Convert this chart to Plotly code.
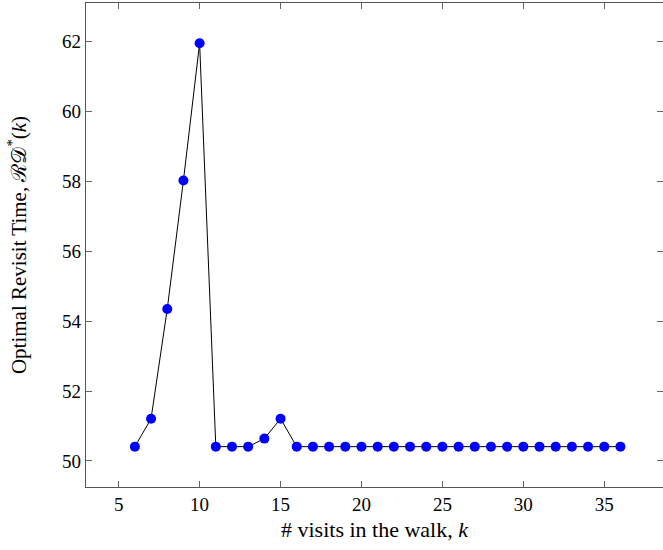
import plotly.graph_objects as go

k_values = list(range(6, 37))
revisit_time = [50.41, 51.21, 54.35, 58.03, 61.96, 50.41, 50.41, 50.41, 50.64, 51.21] + [50.41] * 21
x_ticks = [5, 10, 15, 20, 25, 30, 35]
y_ticks = [50, 52, 54, 56, 58, 60, 62]

font_family = "Liberation Serif, DejaVu Serif, serif"

fig = go.Figure()
fig.add_trace(go.Scatter(
    x=k_values, y=revisit_time, mode="lines+markers",
    line=dict(color="black", width=1),
    marker=dict(color="#0000ff", size=10),
    showlegend=False,
))

fig.update_layout(
    width=663, height=550,
    margin=dict(l=86, r=0, t=3, b=63),
    paper_bgcolor="white", plot_bgcolor="white",
    font=dict(family=font_family, size=19, color="black"),
    xaxis=dict(
        range=[2.98, 38.63], tickvals=x_ticks, ticks="inside", ticklen=6,
        tickcolor="#666", showline=True, linecolor="#555", linewidth=1.3,
        mirror="ticks", showgrid=False, zeroline=False,
        title=dict(text="# visits in the walk, <i>k</i>", font=dict(size=22), standoff=7),
    ),
    yaxis=dict(
        range=[49.255, 63.11], tickvals=y_ticks, ticks="inside", ticklen=6,
        tickcolor="#666", showline=True, linecolor="#555", linewidth=1.3,
        mirror="ticks", showgrid=False, zeroline=False,
        title=dict(text="Optimal Revisit Time, ℛ𝒟<sup>*</sup>(<i>k</i>)", font=dict(size=21), standoff=29),
    ),
)

fig.write_html(
    "out.html",
    config={"displayModeBar": False},
    post_script="document.body.style.margin='0';document.body.style.overflow='hidden';",
)
